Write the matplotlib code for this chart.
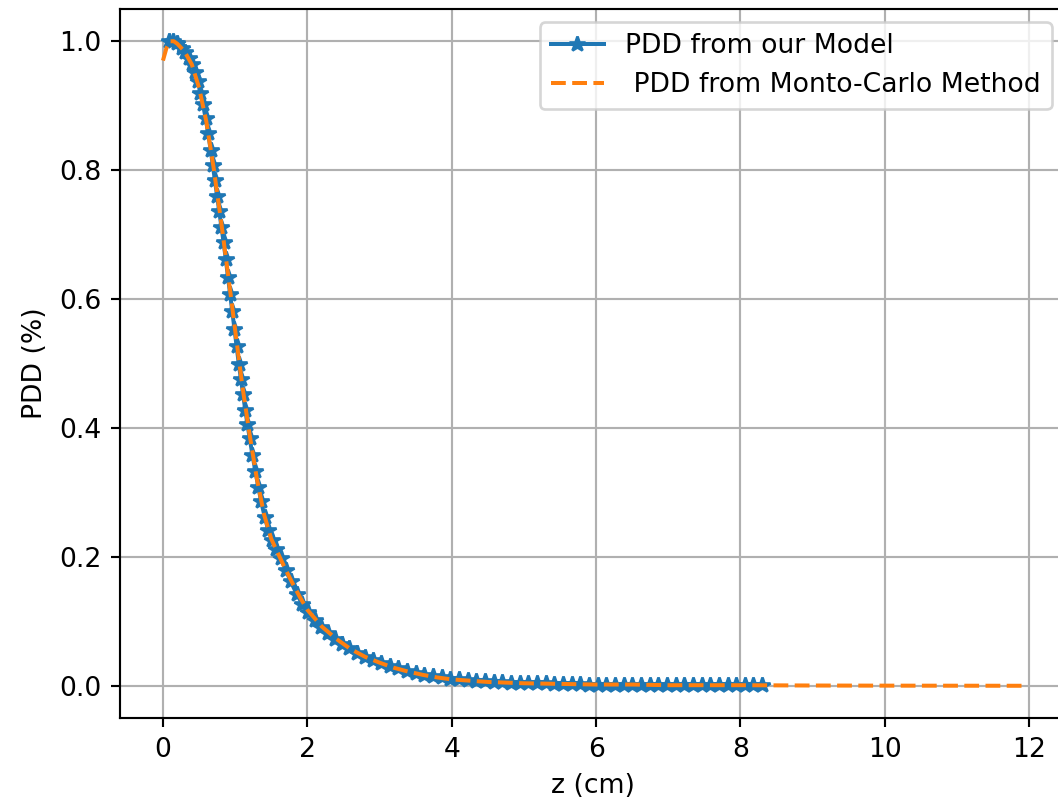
import matplotlib
matplotlib.use("Agg")
import matplotlib.pyplot as plt

# Model PDD (blue, star markers)
model_z = [0.08, 0.14, 0.20, 0.26, 0.31, 0.36, 0.40, 0.44, 0.48, 0.52, 0.555, 0.59,
           0.625, 0.66, 0.69, 0.72, 0.75, 0.78, 0.81, 0.84, 0.87, 0.90, 0.93, 0.96,
           0.99, 1.02, 1.05, 1.08, 1.11, 1.14, 1.17, 1.20, 1.24, 1.28, 1.32, 1.36,
           1.41, 1.46, 1.51, 1.57, 1.63, 1.70, 1.77, 1.85, 1.93, 2.01, 2.10, 2.19,
           2.28, 2.38, 2.48, 2.58, 2.69, 2.80, 2.91, 3.02, 3.14, 3.26, 3.38, 3.50,
           3.62, 3.74, 3.86, 3.98, 4.10, 4.22, 4.34, 4.46, 4.58, 4.70, 4.82, 4.94,
           5.06, 5.18, 5.30, 5.42, 5.54, 5.66, 5.78, 5.90, 6.02, 6.14, 6.26, 6.38,
           6.50, 6.62, 6.74, 6.86, 6.98, 7.10, 7.22, 7.34, 7.46, 7.58, 7.70, 7.82,
           7.94, 8.06, 8.18, 8.30]
model_pdd = [1.000, 1.000, 0.997, 0.990, 0.984, 0.974, 0.965, 0.953, 0.938, 0.920, 0.902, 0.881,
             0.858, 0.832, 0.808, 0.784, 0.760, 0.736, 0.712, 0.688, 0.662, 0.635, 0.608, 0.581,
             0.554, 0.527, 0.500, 0.476, 0.452, 0.428, 0.406, 0.385, 0.358, 0.333, 0.309, 0.286,
             0.262, 0.241, 0.226, 0.212, 0.198, 0.180, 0.162, 0.143, 0.127, 0.114, 0.102, 0.091,
             0.082, 0.073, 0.065, 0.058, 0.051, 0.045, 0.040, 0.035, 0.031, 0.027, 0.023, 0.020,
             0.017, 0.015, 0.013, 0.011, 0.010, 0.009, 0.008, 0.007, 0.006, 0.006, 0.005, 0.005,
             0.004, 0.004, 0.004, 0.003, 0.003, 0.003, 0.003, 0.002, 0.002, 0.002, 0.001, 0.001,
             0.001, 0.001, 0.001, 0.001, 0.001, 0.001, 0.001, 0.001, 0.001, 0.001, 0.001, 0.001,
             0.001, 0.001, 0.001, 0.001]

# Monte-Carlo PDD (orange dashed)
mc_z = [0.0, 0.05, 0.1, 0.15, 0.2, 0.3, 0.4, 0.5, 0.6, 0.7, 0.8, 0.9, 1.0, 1.1, 1.2,
        1.3, 1.4, 1.5, 1.6, 1.7, 1.8, 1.9, 2.0, 2.2, 2.4, 2.6, 2.8, 3.0, 3.2, 3.4,
        3.6, 3.8, 4.0, 4.5, 5.0, 5.5, 6.0, 6.5, 7.0, 8.0, 9.0, 10.0, 11.0, 11.9]
mc_pdd = [0.970, 0.990, 1.000, 1.000, 0.996, 0.984, 0.964, 0.928, 0.876, 0.805, 0.725, 0.640,
          0.552, 0.465, 0.390, 0.322, 0.266, 0.228, 0.204, 0.180, 0.158, 0.137, 0.118, 0.092,
          0.073, 0.057, 0.045, 0.036, 0.028, 0.022, 0.017, 0.013, 0.010, 0.006, 0.004, 0.003,
          0.002, 0.002, 0.001, 0.001, 0.0005, 0.0003, 0.0002, 0.0001]

dpi = 192
fig = plt.figure(figsize=(1058 / dpi, 800 / dpi), dpi=dpi)
ax = fig.add_axes([120 / 1058, 1 - 718 / 800, (1065 - 120) / 1058, (718 - 9) / 800])

ax.plot(model_z, model_pdd, marker='*', color='#1f77b4', label='PDD from our Model')
ax.plot(mc_z, mc_pdd, linestyle='--', color='#ff7f0e', label=' PDD from Monto-Carlo Method')

ax.set_xlabel('z (cm)')
ax.set_ylabel('PDD (%)')
ax.grid(True)
ax.legend(loc='upper right')

fig.savefig('out.png', dpi=dpi)
